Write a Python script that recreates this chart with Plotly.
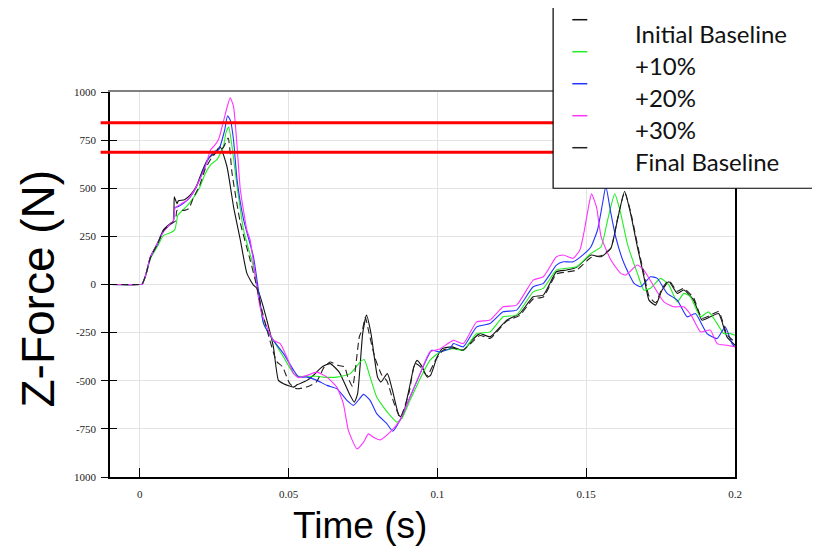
import plotly.graph_objects as go

# ---------------- data ----------------
series_names = ["Initial Baseline", "+10%", "+20%", "+30%", "Final Baseline"]
series_colors = ["#111111", "#22ee22", "#2233ff", "#ff33ff", "#222222"]
series_dash = ["solid", "solid", "solid", "solid", "7px,4px"]

t_initial = [-0.01, 0, 0.0008, 0.002, 0.0036, 0.006, 0.008, 0.0105, 0.0113, 0.0116, 0.012, 0.0125, 0.013, 0.015,
             0.017, 0.019, 0.021, 0.023, 0.025, 0.027, 0.0293, 0.0315, 0.0338, 0.036, 0.0382, 0.0394, 0.0405, 0.0427,
             0.0449, 0.0466, 0.0483, 0.0517, 0.053, 0.0562, 0.0585, 0.0606, 0.0622, 0.064, 0.067, 0.0704, 0.0721,
             0.0732, 0.0749, 0.0762, 0.0777, 0.0799, 0.081, 0.0832, 0.0849, 0.0871, 0.0882, 0.0904, 0.0921, 0.0932,
             0.0949, 0.0966, 0.0977, 0.0999, 0.1016, 0.105, 0.1087, 0.1116, 0.1143, 0.1177, 0.1233, 0.1277, 0.1322,
             0.1356, 0.14, 0.1434, 0.1468, 0.1516, 0.155, 0.1583, 0.1605, 0.1629, 0.1649, 0.1672, 0.1694, 0.1711,
             0.1733, 0.1755, 0.1778, 0.1806, 0.1828, 0.1861, 0.1889, 0.1917, 0.1945, 0.1973, 0.2]
f_initial = [0, 0, 2, 50, 145, 215, 285, 320, 330, 455, 440, 420, 435, 440,
             465, 510, 590, 655, 680, 715, 613, 405, 231, 58, -3, -20, -64, -185,
             -324, -498, -515, -533, -520, -498, -470, -437, -420, -411, -455, -567, -611,
             -567, -255, -159, -255, -481, -507, -463, -550, -680, -689, -550, -428, -394,
             -428, -481, -472, -377, -333, -324, -342, -290, -255, -272, -185, -151, -64,
             -55, 66, 75, 90, 153, 144, 188, 335, 483, 370, 196, 40, -81,
             -107, -29, 14, -46, -29, -81, -185, -168, -151, -272, -315]

t_p10 = [-0.01, 0, 0.0008, 0.002, 0.0036, 0.006, 0.008, 0.0105, 0.0118, 0.0128, 0.014, 0.016, 0.018, 0.020, 0.022,
         0.024, 0.026, 0.0281, 0.029, 0.0299, 0.031, 0.0327, 0.0349, 0.0382, 0.0399, 0.0416, 0.0449, 0.0483, 0.0517,
         0.0534, 0.0562, 0.0595, 0.0617, 0.0662, 0.0707, 0.074, 0.0754, 0.0774, 0.0796, 0.0819, 0.0841, 0.0864,
         0.088, 0.0908, 0.0942, 0.0975, 0.1009, 0.1054, 0.1087, 0.1132, 0.1177, 0.1221, 0.1266, 0.1322, 0.1356,
         0.14, 0.1434, 0.1468, 0.1516, 0.155, 0.1572, 0.1596, 0.1616, 0.1638, 0.1672, 0.1694, 0.1716, 0.175, 0.1778,
         0.1806, 0.1828, 0.185, 0.1884, 0.1911, 0.194, 0.1962, 0.1984, 0.2]
f_p10 = [0, 0, 2, 45, 135, 200, 255, 270, 285, 360, 380, 410, 450, 500, 575,
         625, 650, 717, 790, 818, 717, 509, 283, 92, -46, -203, -290, -377, -463,
         -477, -477, -477, -481, -481, -463, -403, -390, -481, -585, -637, -680, -715,
         -697, -602, -489, -394, -350, -333, -342, -255, -246, -168, -159, -38, -20,
         75, 84, 92, 162, 196, 335, 471, 370, 214, 58, -29, -20, 32, -3,
         -90, -46, -64, -168, -142, -203, -255, -255, -264]

t_p20 = [-0.01, 0, 0.0008, 0.002, 0.0036, 0.006, 0.008, 0.0105, 0.0113, 0.0118, 0.013, 0.015, 0.017, 0.019, 0.021,
         0.023, 0.025, 0.0265, 0.0285, 0.0295, 0.0305, 0.0315, 0.0327, 0.0349, 0.0382, 0.0402, 0.0416, 0.0449,
         0.0483, 0.0517, 0.0534, 0.0562, 0.0595, 0.0629, 0.0662, 0.0696, 0.0718, 0.0735, 0.0752, 0.0774, 0.0796,
         0.083, 0.085, 0.0874, 0.0908, 0.0942, 0.0981, 0.1008, 0.1042, 0.1054, 0.1087, 0.1132, 0.1177, 0.1221,
         0.1266, 0.1322, 0.1356, 0.14, 0.1423, 0.1456, 0.1494, 0.1516, 0.1538, 0.1555, 0.1566, 0.1583, 0.1599,
         0.1627, 0.1661, 0.1683, 0.1716, 0.1739, 0.1772, 0.1806, 0.1839, 0.1867, 0.1906, 0.194, 0.1967, 0.199, 0.2]
f_p20 = [0, 0, 2, 48, 140, 210, 280, 315, 330, 400, 405, 425, 455, 505, 580,
         650, 690, 700, 800, 877, 850, 752, 544, 336, 144, -64, -203, -290,
         -359, -446, -481, -481, -498, -524, -541, -602, -628, -600, -571, -602, -671,
         -723, -762, -706, -585, -463, -342, -350, -333, -307, -324, -220, -203, -142,
         -133, -12, 6, 101, 118, 118, 160, 196, 283, 422, 510, 370, 248,
         110, 6, -12, 40, 32, -46, -81, -168, -151, -255, -281, -220, -307, -324]

t_p30 = [-0.01, 0, 0.0008, 0.002, 0.0036, 0.006, 0.008, 0.010, 0.0113, 0.0118, 0.0125, 0.014, 0.016, 0.018, 0.020,
         0.022, 0.0238, 0.025, 0.0265, 0.028, 0.0295, 0.0304, 0.0315, 0.0327, 0.0338, 0.036, 0.0371, 0.0387, 0.0404,
         0.0427, 0.0449, 0.0472, 0.0494, 0.0517, 0.0534, 0.0562, 0.0595, 0.0629, 0.0662, 0.0684, 0.0701, 0.073,
         0.0752, 0.0768, 0.0785, 0.0808, 0.0841, 0.0874, 0.0908, 0.0942, 0.0975, 0.1008, 0.1054, 0.1087, 0.1132,
         0.1177, 0.1221, 0.1266, 0.1322, 0.1356, 0.14, 0.1423, 0.1456, 0.1479, 0.1494, 0.151, 0.1518, 0.1535, 0.155,
         0.1583, 0.1616, 0.1633, 0.1672, 0.1694, 0.1728, 0.1761, 0.1795, 0.1828, 0.1856, 0.1884, 0.1917, 0.194,
         0.1973, 0.2]
f_p30 = [0, 0, 2, 50, 144, 215, 275, 310, 330, 395, 405, 420, 440, 480, 540,
         610, 700, 720, 755, 840, 930, 970, 925, 717, 492, 283, 231, 58, -116,
         -220, -290, -307, -377, -463, -484, -472, -455, -481, -533, -619, -758, -854,
         -819, -776, -793, -807, -767, -706, -585, -463, -350, -335, -290, -307, -194,
         -185, -116, -107, 23, 40, 144, 153, 136, 179, 283, 422, 471, 400, 249,
         127, 58, 49, 101, 75, -12, -90, -116, -116, -168, -246, -237, -307,
         -316, -324]

t_final = [-0.01, 0, 0.0008, 0.002, 0.0036, 0.006, 0.008, 0.0105, 0.012, 0.0125, 0.015, 0.0165, 0.018, 0.020, 0.022,
           0.024, 0.026, 0.028, 0.0297, 0.031, 0.0338, 0.0371, 0.0388, 0.0405, 0.043, 0.046, 0.048, 0.0504, 0.0527,
           0.056, 0.0593, 0.062, 0.064, 0.0665, 0.0688, 0.0699, 0.0715, 0.0738, 0.0749, 0.0758, 0.077, 0.079, 0.0813,
           0.083, 0.0838, 0.0849, 0.0875, 0.0905, 0.0925, 0.0945, 0.0965, 0.0995, 0.102, 0.105, 0.1087, 0.1116,
           0.1143, 0.1177, 0.1233, 0.1277, 0.1322, 0.1356, 0.14, 0.1434, 0.1468, 0.1516, 0.155, 0.1583, 0.1605,
           0.1629, 0.1649, 0.1672, 0.1694, 0.1711, 0.1733, 0.1755, 0.1778, 0.1806, 0.1828, 0.1861, 0.1889, 0.1917,
           0.1945, 0.1973, 0.2]
f_final = [0, 0, 2, 48, 140, 212, 280, 315, 330, 385, 385, 395, 450, 510, 600,
           655, 690, 710, 761, 579, 320, 127, 23, -100, -250, -400, -428, -515, -541,
           -533, -507, -428, -403, -420, -428, -481, -530, -270, -230, -170, -250, -380, -470,
           -500, -533, -592, -690, -560, -410, -430, -475, -390, -340, -330, -340, -300,
           -265, -280, -190, -160, -75, -65, 55, 65, 75, 140, 150, 190, 340,
           480, 380, 210, 55, -60, -95, -20, 20, -35, -20, -70, -175, -160,
           -140, -260, -300]

threshold_levels = [840, 687]

x_tick_vals = [0, 0.05, 0.1, 0.15, 0.2]
x_tick_text = ["0", "0.05", "0.1", "0.15", "0.2"]
y_tick_vals = [1000, 750, 500, 250, 0, -250, -500, -750, -1000]
y_tick_text = ["1000", "750", "500", "250", "0", "-250", "-500", "-750", "1000"]

# ---------------- figure ----------------
all_t = [t_initial, t_p10, t_p20, t_p30, t_final]
all_f = [f_initial, f_p10, f_p20, f_p30, f_final]

fig = go.Figure()
for name, color, dash, tt, ff in zip(series_names, series_colors, series_dash, all_t, all_f):
    fig.add_trace(go.Scatter(x=tt, y=ff, mode="lines", name=name,
                             line=dict(color=color, width=1.1, dash=dash, shape="spline", smoothing=0.5),
                             showlegend=False))

tick_font = dict(family="Liberation Serif, Times New Roman, serif", size=11, color="#222")

fig.update_layout(
    width=820, height=549,
    margin=dict(l=102, r=93, t=84, b=80),
    paper_bgcolor="white", plot_bgcolor="white",
    xaxis=dict(range=[-0.01, 0.2], tickvals=x_tick_vals, ticktext=x_tick_text,
               ticks="inside", ticklen=9, tickwidth=1.3, tickcolor="black",
               showline=True, linecolor="black", linewidth=1.5,
               showgrid=True, gridcolor="#e3e3e3", gridwidth=1,
               zeroline=False, tickfont=tick_font, ticklabelstandoff=6),
    yaxis=dict(range=[-1000, 1000], tickvals=y_tick_vals, ticktext=y_tick_text,
               ticks="outside", ticklen=7, tickwidth=1.3, tickcolor="black",
               showline=True, linecolor="black", linewidth=1.5, mirror=True,
               showgrid=True, gridcolor="#e3e3e3", gridwidth=1,
               zeroline=False, tickfont=tick_font, ticklabelstandoff=3),
    xaxis2=dict(range=[-0.01, 0.2], overlaying="x", side="top", showline=True,
                linecolor="#808080", linewidth=2, showticklabels=False, ticks="",
                showgrid=False, zeroline=False),
    yaxis2=dict(range=[-1000, 1000], overlaying="y", side="left", tickvals=y_tick_vals,
                ticks="inside", ticklen=7, tickwidth=1.3, tickcolor="black",
                showticklabels=False, showline=False, showgrid=False, zeroline=False),
    showlegend=False,
)
# invisible trace to activate the overlay axes
fig.add_trace(go.Scatter(x=[None], y=[None], xaxis="x2", yaxis="y2", showlegend=False, hoverinfo="skip"))

# threshold lines
for lvl in threshold_levels:
    fig.add_shape(type="line", xref="paper", yref="y", x0=-0.015, x1=1.12, y0=lvl, y1=lvl,
                  line=dict(color="#ff0000", width=3))

# legend box (drawn manually to mimic the original layout; it runs off the right edge)
lx0, lx1, ly0, ly1 = 0.709, 1.14, 0.75, 1.221
fig.add_shape(type="rect", xref="paper", yref="paper", x0=lx0, x1=lx1, y0=ly0, y1=ly1,
              fillcolor="white", line=dict(color="black", width=1.2))
row_h = 32 / 385.0
for i, (name, color) in enumerate(zip(series_names, series_colors)):
    y_text = 1.1527 - i * row_h
    y_sym = y_text + 13.5 / 385.0
    fig.add_shape(type="line", xref="paper", yref="paper", x0=0.7397, x1=0.7637,
                  y0=y_sym, y1=y_sym, line=dict(color=color, width=1.5))
    fig.add_annotation(text=name, xref="paper", yref="paper", x=0.836, y=y_text,
                       xanchor="left", yanchor="middle", showarrow=False,
                       font=dict(family="Lato, Open Sans, sans-serif", size=24, color="#111"))

# axis titles
fig.add_annotation(text="Z-Force (N)", xref="paper", yref="paper", x=-0.115, y=0.49,
                   textangle=-90, showarrow=False, xanchor="center", yanchor="middle",
                   font=dict(family="Liberation Sans, Arial, sans-serif", size=46, color="black"))
fig.add_annotation(text="Time (s)", xref="paper", yref="paper", x=0.40, y=-0.125,
                   showarrow=False, xanchor="center", yanchor="middle",
                   font=dict(family="Liberation Sans, Arial, sans-serif", size=37, color="black"))

fig.write_html("out.html")
